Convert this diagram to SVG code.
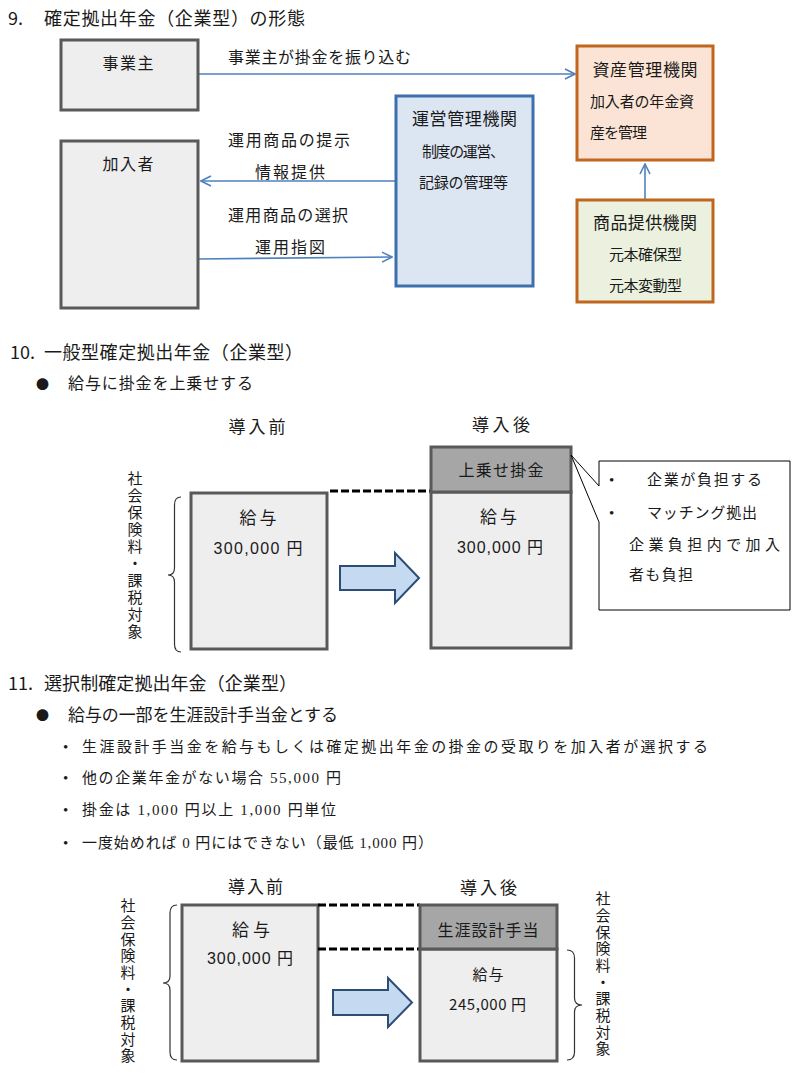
<svg xmlns="http://www.w3.org/2000/svg" width="798" height="1080" viewBox="0 0 798 1080">
<style>
text{font-family:"Noto Sans CJK JP","Liberation Sans",sans-serif;fill:#1a1a1a;}
.t{font-size:18px;}
.s{font-size:16px;}
.m{font-family:"Liberation Sans","Noto Sans CJK JP",sans-serif;font-size:16px;}
.sr{font-family:"Liberation Serif","Noto Sans CJK JP",serif;font-size:15px;}
.c{text-anchor:middle;}
.v{font-size:15px;writing-mode:vertical-rl;text-orientation:upright;}
.gbox{fill:#eeeeee;stroke:#595959;stroke-width:3;}
.gtop{fill:#a6a6a6;stroke:#595959;stroke-width:3;}
.conn{stroke:#4f81bd;stroke-width:1.6;fill:none;}
.dash{stroke:#000;stroke-width:3;stroke-dasharray:8 3;fill:none;}
.barrow{fill:#c5d9f1;stroke:#2c4d75;stroke-width:2;stroke-linejoin:miter;}
.brace{fill:none;stroke:#333;stroke-width:1.2;}
</style>
<defs>
<marker id="ah" viewBox="0 0 12 12" refX="11" refY="6" markerWidth="12" markerHeight="12" markerUnits="userSpaceOnUse" orient="auto">
<polyline points="1,1 11,6 1,11" fill="none" stroke="#4f81bd" stroke-width="1.6"/>
</marker>
</defs>

<!-- Section 9 -->
<g id="title9">
<text class="t" x="8" y="25">9.</text>
<text class="t" x="44" y="25" textLength="261">確定拠出年金（企業型）の形態</text>
</g>

<g id="connectors">
<line class="conn" x1="199" y1="74" x2="575" y2="74" marker-end="url(#ah)"/>
<line class="conn" x1="395" y1="181" x2="201" y2="181" marker-end="url(#ah)"/>
<line class="conn" x1="198" y1="259" x2="392" y2="257" marker-end="url(#ah)"/>
<line class="conn" x1="645" y1="199" x2="645" y2="164" marker-end="url(#ah)"/>
<text class="s" x="228" y="63" textLength="183">事業主が掛金を振り込む</text>
<text class="s" x="228" y="146" textLength="122">運用商品の提示</text>
<text class="s" x="255" y="178" textLength="70">情報提供</text>
<text class="s" x="228" y="221" textLength="120">運用商品の選択</text>
<text class="s" x="255" y="253" textLength="70">運用指図</text>
</g>

<g id="jigyounushi">
<rect class="gbox" x="61" y="40" width="137" height="70"/>
<text class="s c" x="128" y="69" textLength="51">事業主</text>
</g>

<g id="kanyusha">
<rect class="gbox" x="61" y="141" width="137" height="167"/>
<text class="s c" x="128" y="170" textLength="51">加入者</text>
</g>

<g id="unei">
<rect x="396" y="96" width="137" height="190" fill="#dce6f2" stroke="#3b70ad" stroke-width="3"/>
<text class="c" x="464.5" y="125" font-size="17" textLength="105">運営管理機関</text>
<text class="sr c" x="463.5" y="157" textLength="83">制度の運営、</text>
<text class="sr c" x="463.5" y="188" textLength="89">記録の管理等</text>
</g>

<g id="shisan">
<rect x="577" y="46" width="136" height="114" fill="#fbe4d5" stroke="#c0661f" stroke-width="3"/>
<text class="c" x="645" y="76" font-size="17" textLength="105">資産管理機関</text>
<text class="sr" x="590" y="107" textLength="104">加入者の年金資</text>
<text class="sr" x="590" y="138" textLength="57">産を管理</text>
</g>

<g id="shouhin">
<rect x="577" y="200" width="136" height="102" fill="#ebf1de" stroke="#c0661f" stroke-width="3"/>
<text class="c" x="645" y="229" font-size="17" textLength="104">商品提供機関</text>
<text class="sr c" x="645.5" y="260" textLength="73">元本確保型</text>
<text class="sr c" x="645.5" y="291" textLength="73">元本変動型</text>
</g>

<!-- Section 10 -->
<g id="title10">
<text class="t" x="10" y="359">10.</text>
<text class="t" x="44" y="359" textLength="259">一般型確定拠出年金（企業型）</text>
<text x="36" y="389" font-size="13">●</text>
<text class="s" x="68" y="389" textLength="185">給与に掛金を上乗せする</text>
<text class="c" x="257" y="433" font-size="17" textLength="57">導入前</text>
<text class="c" x="501" y="431" font-size="17" textLength="58">導入後</text>
</g>

<g id="vert10">
<text class="v" x="135" y="471" letter-spacing="2">社会保険料・課税対象</text>
<path class="brace" d="M181,497 Q174.5,497 174.5,505 L174.5,568 Q174.5,575 168,575 Q174.5,575 174.5,582 L174.5,644 Q174.5,652 181,652"/>
</g>

<g id="before10">
<rect class="gbox" x="191" y="493" width="136" height="156"/>
<text class="c" x="258" y="524" font-size="17" textLength="37">給与</text>
<text class="m c" x="258" y="554" textLength="89">300,000 円</text>
</g>

<g id="links10">
<line class="dash" x1="330" y1="491" x2="430" y2="491"/>
<polygon class="barrow" points="340,566 395,566 395,553 419,578 395,603 395,590 340,590"/>
</g>

<g id="after10">
<rect class="gbox" x="431" y="492" width="140" height="156"/>
<rect class="gtop" x="431" y="447" width="140" height="45"/>
<text class="s c" x="501" y="476" textLength="85">上乗せ掛金</text>
<text class="c" x="498.5" y="523" font-size="17" textLength="37">給与</text>
<text class="m c" x="500" y="553" textLength="86">300,000 円</text>
</g>

<g id="callout10">
<path d="M599,461 L790,461 L790,610 L599,610 L599,522 L571,455 L599,486 Z" fill="#fff" stroke="#000" stroke-width="1"/>
<text class="sr" x="609" y="485">•</text>
<text class="sr" x="647" y="485" textLength="115">企業が負担する</text>
<text class="sr" x="609" y="518">•</text>
<text class="sr" x="647" y="518" textLength="110">マッチング拠出</text>
<text class="sr" x="629" y="550" textLength="151">企業負担内で加入</text>
<text class="sr" x="629" y="580" textLength="64">者も負担</text>
</g>

<!-- Section 11 -->
<g id="title11">
<text class="t" x="8" y="690">11.</text>
<text class="t" x="44" y="690" textLength="253">選択制確定拠出年金（企業型）</text>
<text x="36" y="720" font-size="13">●</text>
<text x="68" y="721" font-size="17" textLength="270">給与の一部を生涯設計手当金とする</text>
<text class="sr" x="63" y="752">•</text>
<text class="sr" x="82" y="752" font-size="16" textLength="626">生涯設計手当金を給与もしくは確定拠出年金の掛金の受取りを加入者が選択する</text>
<text class="sr" x="63" y="783">•</text>
<text class="sr" x="82" y="783" font-size="16" textLength="259">他の企業年金がない場合 55,000 円</text>
<text class="sr" x="63" y="815">•</text>
<text class="sr" x="82" y="815" font-size="16" textLength="254">掛金は 1,000 円以上 1,000 円単位</text>
<text class="sr" x="63" y="848">•</text>
<text class="sr" x="82" y="848" font-size="16" textLength="351">一度始めれば 0 円にはできない（最低 1,000 円）</text>
<text class="c" x="255.5" y="893" font-size="17" textLength="55">導入前</text>
<text class="c" x="488.5" y="894" font-size="17" textLength="57">導入後</text>
</g>

<g id="vert11left">
<text class="v" x="128" y="898" letter-spacing="1.7">社会保険料・課税対象</text>
<path class="brace" d="M177,905 Q170,905 170,913 L170,976 Q170,983 163,983 Q170,983 170,990 L170,1052 Q170,1060 177,1060"/>
</g>

<g id="before11">
<rect class="gbox" x="182" y="905" width="136" height="156"/>
<text class="c" x="251" y="936" font-size="17" textLength="38">給与</text>
<text class="m c" x="250" y="964" textLength="86">300,000 円</text>
</g>

<g id="links11">
<line class="dash" x1="318" y1="905" x2="420" y2="905"/>
<line class="dash" x1="318" y1="949" x2="420" y2="949"/>
<polygon class="barrow" points="333,990 388,990 388,978 412,1002.5 388,1027 388,1015 333,1015"/>
</g>

<g id="after11">
<rect class="gbox" x="420" y="949" width="137" height="112"/>
<rect class="gtop" x="420" y="905" width="137" height="44"/>
<text class="s c" x="488" y="936" textLength="101">生涯設計手当</text>
<text class="c" x="488" y="980" font-size="15" textLength="31">給与</text>
<text class="c" x="487.5" y="1010" font-size="15" font-family="Liberation Sans, Noto Sans CJK JP, sans-serif" textLength="77">245,000 円</text>
</g>

<g id="vert11right">
<path class="brace" d="M567,950 Q574.5,950 574.5,958 L574.5,998 Q574.5,1005 582,1005 Q574.5,1005 574.5,1012 L574.5,1052 Q574.5,1060 567,1060"/>
<text class="v" x="603" y="891" letter-spacing="1.7">社会保険料・課税対象</text>
</g>
</svg>
